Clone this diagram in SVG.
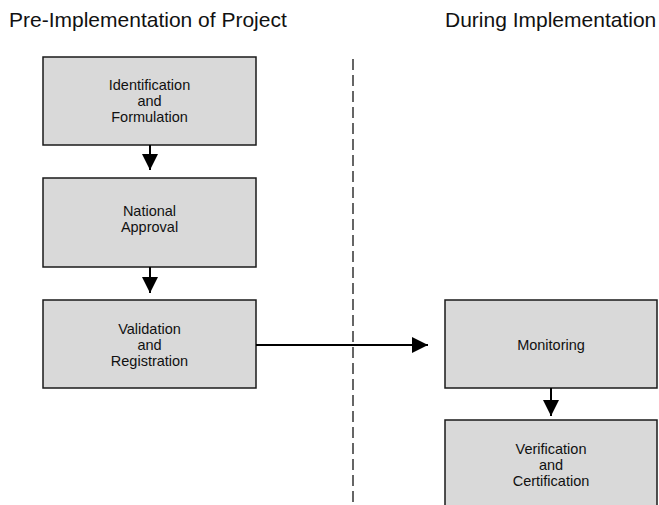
<svg xmlns="http://www.w3.org/2000/svg" width="659" height="505" viewBox="0 0 659 505">
<style>
.box{fill:#d9d9d9;stroke:#1a1a1a;stroke-width:1.5}
.t{font-family:"Liberation Sans",Arial,sans-serif;font-size:14.5px;fill:#111;text-anchor:middle}
.h{font-family:"Liberation Sans",Arial,sans-serif;font-size:21px;fill:#111}
.c{stroke:#000;stroke-width:2;fill:none}
</style>
<defs>
<marker id="ah" markerUnits="userSpaceOnUse" markerWidth="16" markerHeight="16" refX="16" refY="8" orient="auto">
<path d="M0,0 L16,8 L0,16 Z" fill="#000"/>
</marker>
</defs>
<rect width="659" height="505" fill="#fff"/>
<text class="h" x="9" y="27">Pre-Implementation of Project</text>
<text class="h" x="445" y="27">During Implementation</text>
<line x1="353" y1="59" x2="353" y2="505" stroke="#333" stroke-width="1.5" stroke-dasharray="11 5"/>
<g id="n1"><rect class="box" x="43" y="57" width="213" height="88"/>
<text class="t" x="149.5" y="90">Identification</text><text class="t" x="149.5" y="106">and</text><text class="t" x="149.5" y="122">Formulation</text></g>
<g id="n2"><rect class="box" x="43" y="178" width="213" height="89"/>
<text class="t" x="149.5" y="216">National</text><text class="t" x="149.5" y="232">Approval</text></g>
<g id="n3"><rect class="box" x="43" y="300" width="213" height="88"/>
<text class="t" x="149.5" y="333.5">Validation</text><text class="t" x="149.5" y="349.5">and</text><text class="t" x="149.5" y="365.5">Registration</text></g>
<g id="n4"><rect class="box" x="445" y="300" width="212" height="88"/>
<text class="t" x="551" y="350">Monitoring</text></g>
<g id="n5"><rect class="box" x="445" y="420" width="212" height="90"/>
<text class="t" x="551" y="454">Verification</text><text class="t" x="551" y="470">and</text><text class="t" x="551" y="486">Certification</text></g>
<g id="connectors">
<line class="c" x1="150" y1="145" x2="150" y2="170" marker-end="url(#ah)"/>
<line class="c" x1="150" y1="267" x2="150" y2="293" marker-end="url(#ah)"/>
<line class="c" x1="256" y1="345" x2="428" y2="345" marker-end="url(#ah)"/>
<line class="c" x1="551" y1="388" x2="551" y2="416" marker-end="url(#ah)"/>
</g>
</svg>
